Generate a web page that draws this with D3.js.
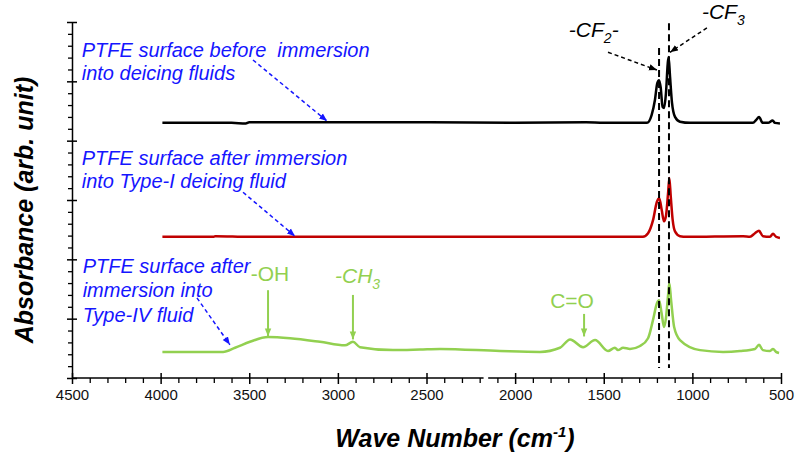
<!DOCTYPE html>
<html>
<head>
<meta charset="utf-8">
<script src="https://cdn.jsdelivr.net/npm/d3@7"></script>
<style>
  body { margin: 0; background: #fff; }
  text { font-family: "Liberation Sans", Arial, sans-serif; }
</style>
</head>
<body>
<svg id="chart" width="798" height="460"></svg>
<script>
// Spectra: [wave number (cm-1), absorbance (arb. unit, stacked)]
const spectrumBefore = [
  [3990, 4.30], [3600, 4.30], [3520, 4.29], [3500, 4.31], [3000, 4.31], [2500, 4.31],
  [2000, 4.30], [1600, 4.31], [1500, 4.30], [1256, 4.30], [1230, 4.43], [1211, 4.69],
  [1198, 4.97], [1188, 5.02], [1179, 4.90], [1168, 4.57], [1160, 4.55], [1149, 4.80],
  [1139, 5.30], [1134, 5.41], [1126, 5.08], [1115, 4.64], [1098, 4.40], [1070, 4.32],
  [1013, 4.30], [700, 4.30], [658, 4.30], [640, 4.35], [624, 4.40], [603, 4.30],
  [573, 4.30], [547, 4.34], [534, 4.30], [506, 4.29]
];
const spectrumTypeI = [
  [3990, 2.38], [3700, 2.38], [3690, 2.39], [3500, 2.38], [3000, 2.38], [2000, 2.38],
  [1279, 2.38], [1250, 2.44], [1222, 2.66], [1200, 2.97], [1187, 3.03], [1173, 2.83],
  [1160, 2.64], [1149, 2.73], [1137, 3.12], [1130, 3.37], [1122, 3.06], [1111, 2.66],
  [1098, 2.47], [1070, 2.39], [1032, 2.38], [714, 2.39], [675, 2.38], [647, 2.44],
  [624, 2.48], [602, 2.39], [562, 2.38], [545, 2.43], [528, 2.38], [506, 2.36]
];
const spectrumTypeIV = [
  [3990, 0.44], [3648, 0.44], [3580, 0.51], [3496, 0.61], [3394, 0.69], [3270, 0.67],
  [3101, 0.61], [2960, 0.55], [2915, 0.61], [2875, 0.52], [2689, 0.47], [2537, 0.48],
  [2424, 0.49], [2085, 0.455], [1860, 0.44], [1747, 0.51], [1690, 0.65], [1617, 0.52],
  [1549, 0.64], [1476, 0.455], [1437, 0.51], [1420, 0.47], [1391, 0.51], [1352, 0.49],
  [1295, 0.54], [1250, 0.67], [1222, 0.98], [1200, 1.26], [1188, 1.31], [1174, 1.10],
  [1160, 0.86], [1149, 1.01], [1137, 1.40], [1130, 1.60], [1120, 1.31], [1103, 0.86],
  [1070, 0.64], [957, 0.47], [827, 0.44], [731, 0.455], [647, 0.49], [624, 0.56],
  [602, 0.47], [562, 0.455], [545, 0.49], [528, 0.44], [511, 0.42]
];
const seriesColors = ["#000000", "#c00000", "#92d050"];

const majorTicksX = [4500, 4000, 3500, 3000, 2500, 2000, 1500, 1000, 500];
const majorTicksY = [0, 1, 2, 3, 4, 5, 6];
const axisBreak = [2178, 2152];

// dashed marker lines for the -CF2- and -CF3 bands: [wave number, top absorbance]
const bandLines = [[1188, 5.56], [1132, 5.98]];

const svg = d3.select("#chart");
const xScale = d3.scaleLinear().domain([4500, 500]).range([72, 781]);
const yScale = d3.scaleLinear().domain([0, 6]).range([378, 22]);

// arrow heads
const defs = svg.append("defs");
[["blue", "#1515ff"], ["black", "#000"], ["green", "#92d050"]].forEach(([name, color]) => {
  defs.append("marker")
    .attr("id", "head-" + name)
    .attr("viewBox", "0 0 10 10")
    .attr("refX", 10).attr("refY", 5)
    .attr("markerUnits", "userSpaceOnUse")
    .attr("markerWidth", 8).attr("markerHeight", 8)
    .attr("orient", "auto")
    .append("path").attr("d", "M0,1 L10,5 L0,9 z").attr("fill", color);
});

// x axis: minor ticks, major ticks, broken axis line
const minorTicksX = d3.range(600, 4500, 100).filter(d => d % 500 !== 0);
svg.append("g")
  .attr("transform", "translate(0,378)")
  .call(d3.axisBottom(xScale).tickValues(minorTicksX).tickSize(5).tickFormat(""))
  .call(g => g.select(".domain").remove())
  .call(g => g.selectAll(".tick line").attr("stroke", "#000").attr("stroke-width", 1.3));

svg.append("g")
  .attr("transform", "translate(0,378)")
  .call(d3.axisBottom(xScale).tickValues(majorTicksX).tickSize(6).tickFormat(d3.format("d")))
  .call(g => g.select(".domain").remove())
  .call(g => g.selectAll(".tick line").attr("y1", -5).attr("stroke", "#000").attr("stroke-width", 1.5))
  .call(g => g.selectAll(".tick text")
    .attr("y", 22).attr("dy", null)
    .attr("fill", "#111").attr("font-size", 15)
    .style("font-family", "'Liberation Sans', Arial, sans-serif"));

[[4500, axisBreak[0]], [axisBreak[1], 500]].forEach(([a, b]) => {
  svg.append("line")
    .attr("x1", xScale(a)).attr("x2", xScale(b))
    .attr("y1", 378).attr("y2", 378)
    .attr("stroke", "#000").attr("stroke-width", 1.5);
});

// y axis
const minorTicksY = d3.range(0.2, 6, 0.2).filter(d => Math.abs(d - Math.round(d)) > 0.01);
svg.append("g")
  .attr("transform", "translate(72,0)")
  .call(d3.axisLeft(yScale).tickValues(minorTicksY).tickSize(4).tickFormat(""))
  .call(g => g.select(".domain").remove())
  .call(g => g.selectAll(".tick line").attr("stroke", "#000").attr("stroke-width", 1.3));

svg.append("g")
  .attr("transform", "translate(72,0)")
  .call(d3.axisLeft(yScale).tickValues(majorTicksY).tickSize(5).tickSizeOuter(0).tickFormat(""))
  .call(g => g.select(".domain").attr("stroke", "#000").attr("stroke-width", 1.5))
  .call(g => g.selectAll(".tick line").attr("x1", 5).attr("stroke", "#000").attr("stroke-width", 1.5));

// axis titles
svg.append("text")
  .attr("transform", "translate(33,210) rotate(-90)")
  .attr("text-anchor", "middle")
  .attr("font-size", 25).attr("font-weight", "bold").attr("font-style", "italic")
  .text("Absorbance (arb. unit)");

const xTitle = svg.append("text")
  .attr("x", 455).attr("y", 447)
  .attr("text-anchor", "middle")
  .attr("font-size", 25).attr("font-weight", "bold").attr("font-style", "italic");
xTitle.append("tspan").text("Wave Number (cm");
xTitle.append("tspan").attr("dy", -10).attr("font-size", 15).text("-1");
xTitle.append("tspan").attr("dy", 10).text(")");

// spectra
const line = d3.line()
  .x(d => xScale(d[0]))
  .y(d => yScale(d[1]))
  .curve(d3.curveMonotoneX);

[spectrumBefore, spectrumTypeI, spectrumTypeIV].forEach((s, i) => {
  svg.append("path")
    .datum(s)
    .attr("d", line)
    .attr("fill", "none")
    .attr("stroke", seriesColors[i])
    .attr("stroke-width", 2.5)
    .attr("stroke-linejoin", "round");
});

// dashed band lines
svg.selectAll(".band")
  .data(bandLines)
  .join("line")
  .attr("class", "band")
  .attr("x1", d => xScale(d[0])).attr("x2", d => xScale(d[0]))
  .attr("y1", d => yScale(d[1])).attr("y2", yScale(0.17))
  .attr("stroke", "#000").attr("stroke-width", 2)
  .attr("stroke-dasharray", "7,4");

function arrow(from, to, color, head, dashed) {
  svg.append("line")
    .attr("x1", xScale(from[0])).attr("y1", yScale(from[1]))
    .attr("x2", xScale(to[0])).attr("y2", yScale(to[1]))
    .attr("stroke", color)
    .attr("stroke-width", dashed ? 1.5 : 2)
    .attr("stroke-dasharray", dashed ? "4,3" : null)
    .attr("marker-end", `url(#head-${head})`);
}

// sample notes (blue)
const noteLines = [
  ["PTFE surface before  immersion", "into deicing fluids"],
  ["PTFE surface after immersion", "into Type-I deicing fluid"],
  ["PTFE surface after", "immersion into", "Type-IV fluid"]
];
const noteAnchors = [[4445, 5.41], [4445, 3.59], [4440, 1.77]];
const noteGaps = [23, 23, 24.5];
const noteArrows = [
  [[3479, 5.36], [3061, 4.33]],
  [[3535, 3.13], [3242, 2.39]],
  [[3795, 1.35], [3609, 0.56]]
];

noteLines.forEach((lines, i) => {
  const t = svg.append("text")
    .attr("x", xScale(noteAnchors[i][0]))
    .attr("y", yScale(noteAnchors[i][1]))
    .attr("fill", "#1515ff")
    .attr("font-size", 20).attr("font-style", "italic")
    .style("white-space", "pre");
  lines.forEach((l, j) => {
    t.append("tspan")
      .attr("x", xScale(noteAnchors[i][0]))
      .attr("dy", j === 0 ? 0 : noteGaps[i])
      .text(l);
  });
  arrow(noteArrows[i][0], noteArrows[i][1], "#1515ff", "blue", true);
});

// band labels (black)
const cf2 = svg.append("text")
  .attr("x", xScale(1416)).attr("y", yScale(5.74))
  .attr("text-anchor", "end")
  .attr("font-size", 21).attr("font-style", "italic");
cf2.append("tspan").text("-CF");
cf2.append("tspan").attr("dy", 6).attr("font-size", 14).text("2");
cf2.append("tspan").attr("dy", -6).text("-");
arrow([1476, 5.49], [1200, 5.19], "#000", "black", true);

const cf3 = svg.append("text")
  .attr("x", xScale(946)).attr("y", yScale(6.05))
  .attr("font-size", 21).attr("font-style", "italic");
cf3.append("tspan").text("-CF");
cf3.append("tspan").attr("dy", 6).attr("font-size", 14).text("3");
arrow([918, 5.90], [1126, 5.49], "#000", "black", true);

// group labels (green)
const green = "#92d050";
svg.append("text")
  .attr("x", xScale(3383)).attr("y", yScale(1.63))
  .attr("text-anchor", "middle")
  .attr("fill", green).attr("font-size", 21)
  .text("-OH");
arrow([3394, 1.48], [3394, 0.70], green, "green", false);

const ch3 = svg.append("text")
  .attr("x", xScale(3016)).attr("y", yScale(1.60))
  .attr("fill", green).attr("font-size", 21).attr("font-style", "italic");
ch3.append("tspan").text("-CH");
ch3.append("tspan").attr("dy", 6).attr("font-size", 14).text("3");
arrow([2915, 1.40], [2915, 0.65], green, "green", false);

svg.append("text")
  .attr("x", xScale(1679)).attr("y", yScale(1.18))
  .attr("text-anchor", "middle")
  .attr("fill", green).attr("font-size", 21)
  .text("C=O");
arrow([1611, 1.08], [1611, 0.70], green, "green", false);
</script>
</body>
</html>
